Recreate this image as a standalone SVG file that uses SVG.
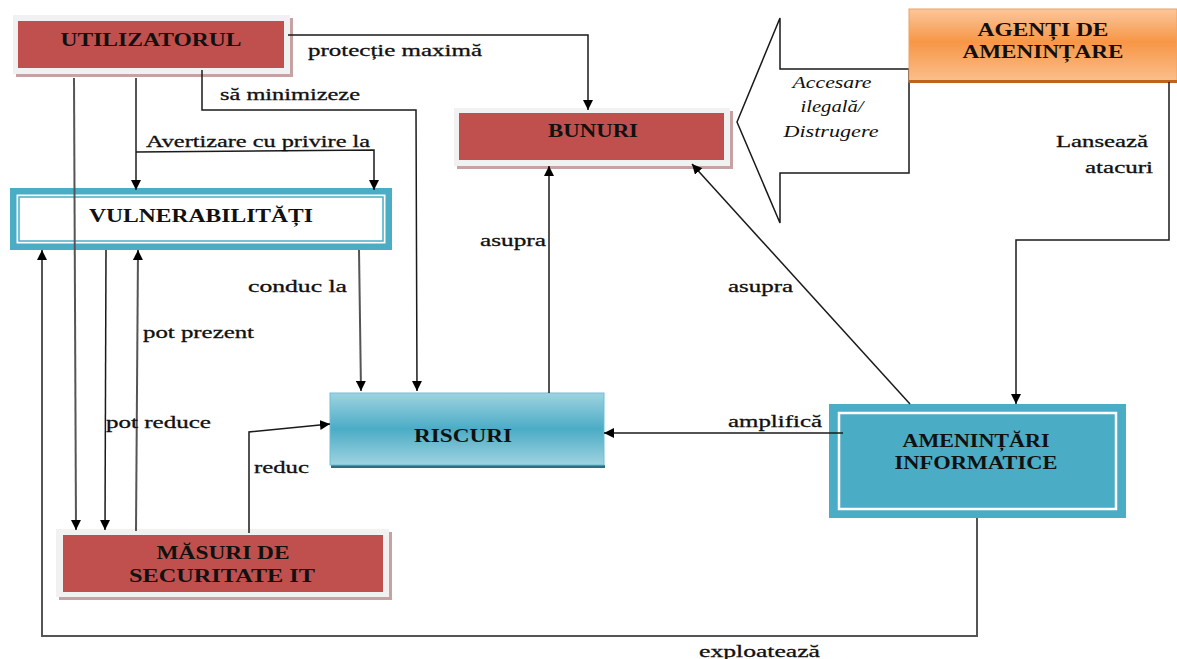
<svg xmlns="http://www.w3.org/2000/svg" width="1177" height="659" viewBox="0 0 1177 659">
<defs>
<linearGradient id="gTeal" x1="0" y1="0" x2="0" y2="1">
<stop offset="0" stop-color="#9fd3e0"/><stop offset="0.5" stop-color="#4bacc6"/><stop offset="1" stop-color="#9fd3e0"/>
</linearGradient>
<linearGradient id="gOrange" x1="0" y1="0" x2="0" y2="1">
<stop offset="0" stop-color="#fbc79c"/><stop offset="0.45" stop-color="#f79646"/><stop offset="1" stop-color="#fbc08e"/>
</linearGradient>
<marker id="ah" viewBox="0 0 10 10" refX="10" refY="5" markerWidth="10" markerHeight="10" markerUnits="userSpaceOnUse" orient="auto">
<path d="M0,0 L10,5 L0,10 z" fill="#000"/>
</marker>
<style>
.lbl{font-family:"Liberation Serif","Times New Roman",serif;font-size:17px;fill:#111;stroke:#111;stroke-width:0.3;}
.nt{font-family:"Liberation Serif","Times New Roman",serif;font-size:19px;font-weight:bold;fill:#111;text-anchor:middle;}
.it{font-family:"Liberation Serif","Times New Roman",serif;font-size:16px;font-style:italic;fill:#111;}
.c{fill:none;stroke:#1a1a1a;stroke-width:1.5;}
.cg{fill:none;stroke:#555;stroke-width:2;}
.arr{marker-end:url(#ah);}
.shadow{fill:#c7a2a2;}
.frame{fill:#f1f1f1;}
.red{fill:#c0504d;}
.teal{fill:#4bacc6;}
</style>
</defs>
<rect width="1177" height="659" fill="#fff"/>

<g id="callout-arrow">
<polygon points="737,122 780,18 780,69 909,69 909,173 780,173 780,223" fill="#fff" stroke="#1a1a1a" stroke-width="1.5"/>
<text class="it" x="832" y="88" text-anchor="middle" textLength="79" lengthAdjust="spacingAndGlyphs">Accesare</text>
<text class="it" x="832" y="112" text-anchor="middle" textLength="63" lengthAdjust="spacingAndGlyphs">ilegală/</text>
<text class="it" x="831" y="137" text-anchor="middle" textLength="95" lengthAdjust="spacingAndGlyphs">Distrugere</text>
</g>

<g id="utilizatorul">
<rect class="shadow" x="16" y="18" width="277" height="59"/>
<rect class="frame" x="13" y="15" width="277" height="59"/>
<rect class="red" x="18" y="21" width="266" height="47"/>
<text class="nt" x="151" y="46" textLength="181" lengthAdjust="spacingAndGlyphs">UTILIZATORUL</text>
</g>

<g id="bunuri">
<rect class="shadow" x="457" y="111" width="276" height="58"/>
<rect class="frame" x="454" y="108" width="276" height="58"/>
<rect class="red" x="459" y="113" width="265" height="47"/>
<text class="nt" x="593" y="137" textLength="90" lengthAdjust="spacingAndGlyphs">BUNURI</text>
</g>

<g id="agenti">
<rect x="909" y="9" width="268" height="73" fill="url(#gOrange)"/>
<rect x="909" y="9" width="268" height="73" fill="none" stroke="#f0a060" stroke-width="1"/>
<rect x="909" y="80" width="268" height="3" fill="#c0621a"/>
<text class="nt" x="1043" y="36" textLength="131" lengthAdjust="spacingAndGlyphs">AGENȚI DE</text>
<text class="nt" x="1043" y="58" textLength="161" lengthAdjust="spacingAndGlyphs">AMENINȚARE</text>
</g>

<g id="vulnerabilitati">
<rect class="teal" x="10" y="188" width="382" height="62"/>
<rect x="16.5" y="194.5" width="369" height="49" fill="#fff"/>
<rect x="19" y="197" width="364" height="44" fill="#fff" stroke="#4bacc6" stroke-width="1.5"/>
<text class="nt" x="201" y="222" textLength="224" lengthAdjust="spacingAndGlyphs">VULNERABILITĂȚI</text>
</g>

<g id="riscuri">
<rect x="331" y="465" width="274" height="3" fill="#2b6f80"/>
<rect x="330" y="393" width="274" height="72" fill="url(#gTeal)" stroke="#6cbfd3" stroke-width="1"/>
<text class="nt" x="463" y="442" textLength="98" lengthAdjust="spacingAndGlyphs">RISCURI</text>
</g>

<g id="amenintari">
<rect class="teal" x="829" y="404" width="297" height="114"/>
<rect x="839" y="413" width="277" height="96" fill="#4bacc6" stroke="#fff" stroke-width="2.5"/>
<text class="nt" x="976" y="447" textLength="147" lengthAdjust="spacingAndGlyphs">AMENINȚĂRI</text>
<text class="nt" x="976" y="469" textLength="163" lengthAdjust="spacingAndGlyphs">INFORMATICE</text>
</g>

<g id="masuri">
<rect class="shadow" x="59" y="532" width="333" height="68"/>
<rect class="frame" x="56" y="529" width="333" height="68"/>
<rect class="red" x="63" y="535" width="320" height="57"/>
<text class="nt" x="223" y="559" textLength="133" lengthAdjust="spacingAndGlyphs">MĂSURI DE</text>
<text class="nt" x="222" y="582" textLength="186" lengthAdjust="spacingAndGlyphs">SECURITATE IT</text>
</g>

<g id="connectors">
<polyline class="c arr" points="288,35 588,35 588,110"/>
<polyline class="c arr" points="202,70 202,110 416,110 417,391"/>
<line class="cg arr" x1="136" y1="78" x2="136" y2="190"/>
<polyline class="c arr" points="136,152 374,150 374,190"/>
<line class="cg arr" x1="74" y1="78" x2="76" y2="530"/>
<line class="c arr" x1="106" y1="250" x2="105" y2="530"/>
<line class="cg arr" x1="136" y1="531" x2="138" y2="250"/>
<polyline class="cg arr" points="977,518 977,636 42,636 42,250"/>
<line class="cg arr" x1="359" y1="250" x2="361" y2="391"/>
<line class="c arr" x1="549" y1="393" x2="549" y2="166"/>
<line class="c arr" x1="910" y1="404" x2="692" y2="164"/>
<polyline class="c arr" points="249,533 249,432 330,424"/>
<line class="c arr" x1="843" y1="433" x2="604" y2="433"/>
<polyline class="c arr" points="1169,82 1169,240 1016,240 1016,404"/>
</g>

<g id="labels">
<text class="lbl" x="308" y="56" textLength="174" lengthAdjust="spacingAndGlyphs">protecție maximă</text>
<text class="lbl" x="220" y="100" textLength="140" lengthAdjust="spacingAndGlyphs">să minimizeze</text>
<text class="lbl" x="146" y="147" textLength="224" lengthAdjust="spacingAndGlyphs">Avertizare cu privire  la</text>
<text class="lbl" x="248" y="292" textLength="99" lengthAdjust="spacingAndGlyphs">conduc  la</text>
<text class="lbl" x="143" y="338" textLength="111" lengthAdjust="spacingAndGlyphs">pot prezent</text>
<text class="lbl" x="106" y="428" textLength="105" lengthAdjust="spacingAndGlyphs">pot reduce</text>
<text class="lbl" x="254" y="473" textLength="55" lengthAdjust="spacingAndGlyphs">reduc</text>
<text class="lbl" x="480" y="246" textLength="66" lengthAdjust="spacingAndGlyphs">asupra</text>
<text class="lbl" x="728" y="292" textLength="65" lengthAdjust="spacingAndGlyphs">asupra</text>
<text class="lbl" x="728" y="427" textLength="94" lengthAdjust="spacingAndGlyphs">amplifică</text>
<text class="lbl" x="1056" y="147" textLength="92" lengthAdjust="spacingAndGlyphs">Lansează</text>
<text class="lbl" x="1085" y="173" textLength="68" lengthAdjust="spacingAndGlyphs">atacuri</text>
<text class="lbl" x="699" y="657" textLength="121" lengthAdjust="spacingAndGlyphs">exploatează</text>
</g>
</svg>
